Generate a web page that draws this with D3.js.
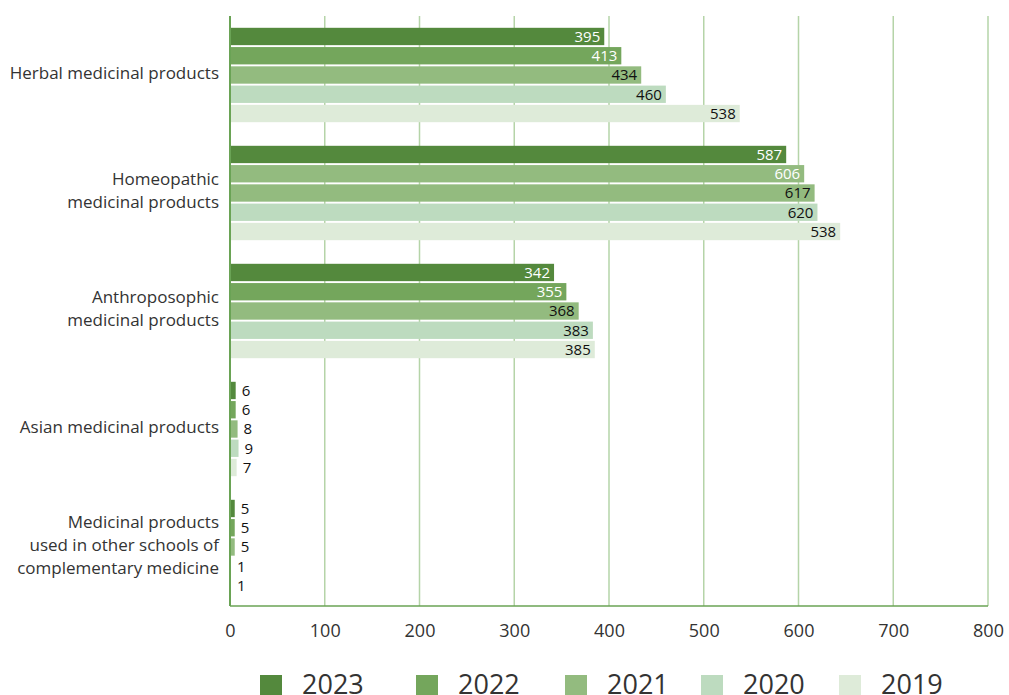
<!DOCTYPE html>
<html>
<head>
<meta charset="utf-8">
<script src="https://cdn.jsdelivr.net/npm/d3@7"></script>
<style>
  body { margin: 0; background: #fff; }
  text { font-family: "Open Sans", "Noto Sans", sans-serif; }
</style>
</head>
<body>
<div id="chart"></div>
<script>
// categories (multi-line labels split by "|")
const categories = [
  "Herbal medicinal products",
  "Homeopathic|medicinal products",
  "Anthroposophic|medicinal products",
  "Asian medicinal products",
  "Medicinal products|used in other schools of|complementary medicine"
];
const years = ["2023", "2022", "2021", "2020", "2019"];

// bar lengths as drawn, per year (order follows categories)
const values2023 = [395, 587, 342, 6, 5];
const values2022 = [413, 606, 355, 6, 5];
const values2021 = [434, 617, 368, 8, 5];
const values2020 = [460, 620, 383, 9, 1];
const values2019 = [538, 644, 385, 7, 1];

// printed labels (homeopathic 2019 bar is labelled 538 in the source)
const labels2019 = ["538", "538", "385", "7", "1"];

const xTicks = [0, 100, 200, 300, 400, 500, 600, 700, 800];
const colors = ["#54893d", "#74a65c", "#93bb7f", "#bddbbf", "#deebd9"];

const seriesValues = [values2023, values2022, values2021, values2020, values2019];

const width = 1009, height = 695;
const margin = { top: 16, right: 21, bottom: 89, left: 230 };

const svg = d3.select("#chart")
  .append("svg")
  .attr("width", width)
  .attr("height", height);

const x = d3.scaleLinear()
  .domain([0, 800])
  .range([margin.left, width - margin.right]);

const y0 = d3.scaleBand()
  .domain(categories)
  .range([margin.top, height - margin.bottom])
  .paddingInner(0.2)
  .paddingOuter(0.1);

const y1 = d3.scaleBand()
  .domain(years)
  .range([0, y0.bandwidth()])
  .paddingInner(0.1);

const plotBottom = height - margin.bottom;

// grid lines
svg.append("g")
  .selectAll("line")
  .data(xTicks.slice(1))
  .enter()
  .append("line")
  .attr("x1", d => x(d))
  .attr("x2", d => x(d))
  .attr("y1", margin.top)
  .attr("y2", plotBottom)
  .attr("stroke", "#b5d4a8")
  .attr("stroke-width", 1.5);

// bars
const rows = [];
categories.forEach((c, i) => {
  years.forEach((yr, j) => {
    let label = String(seriesValues[j][i]);
    if (yr === "2019") label = labels2019[i];
    // homeopathic 2022 bar is drawn in the 2021 colour in the source
    let fill = colors[j];
    if (i === 1 && yr === "2022") fill = colors[2];
    rows.push({ cat: c, year: yr, value: seriesValues[j][i], label: label, fill: fill, white: j < 2 });
  });
});

const g = svg.append("g");

g.selectAll("rect")
  .data(rows)
  .enter()
  .append("rect")
  .attr("x", x(0))
  .attr("y", d => y0(d.cat) + y1(d.year))
  .attr("width", d => x(d.value) - x(0))
  .attr("height", y1.bandwidth())
  .attr("fill", d => d.fill);

g.selectAll("text.val")
  .data(rows)
  .enter()
  .append("text")
  .attr("class", "val")
  .attr("x", d => d.value > 50 ? x(d.value) - 4 : x(d.value) + 6)
  .attr("y", d => y0(d.cat) + y1(d.year) + y1.bandwidth() / 2)
  .attr("dy", "0.36em")
  .attr("text-anchor", d => d.value > 50 ? "end" : "start")
  .attr("font-size", "15px")
  .attr("fill", d => (d.value > 50 && d.white) ? "#ffffff" : "#111111")
  .text(d => d.label);

// axis lines
svg.append("line")
  .attr("x1", x(0)).attr("x2", x(0))
  .attr("y1", margin.top).attr("y2", plotBottom)
  .attr("stroke", "#6aa355").attr("stroke-width", 2);
svg.append("line")
  .attr("x1", x(0)).attr("x2", x(800))
  .attr("y1", plotBottom).attr("y2", plotBottom)
  .attr("stroke", "#6aa355").attr("stroke-width", 1.5);

// x axis labels
const xAxis = svg.append("g")
  .attr("transform", "translate(0," + plotBottom + ")")
  .call(d3.axisBottom(x).tickValues(xTicks).tickSize(0).tickPadding(18));
xAxis.select(".domain").remove();
xAxis.selectAll("text")
  .attr("font-size", "18px")
  .attr("fill", "#333")
  .style("font-family", "'Liberation Sans Narrow', 'Open Sans', sans-serif");

// category labels
categories.forEach(c => {
  const lines = c.split("|");
  const cy = y0(c) + y0.bandwidth() / 2;
  const lh = 23;
  const t = svg.append("text")
    .attr("text-anchor", "end")
    .attr("font-size", "17px")
    .attr("fill", "#333");
  lines.forEach((ln, k) => {
    t.append("tspan")
      .attr("x", 219)
      .attr("y", cy - 2 + (k - (lines.length - 1) / 2) * lh)
      .attr("dy", "0.35em")
      .text(ln);
  });
});

// legend
const legendX = [260, 416, 565, 701, 839];
const legend = svg.append("g");
years.forEach((yr, j) => {
  legend.append("rect")
    .attr("x", legendX[j])
    .attr("y", 675)
    .attr("width", 22)
    .attr("height", 22)
    .attr("fill", colors[j]);
  legend.append("text")
    .attr("x", legendX[j] + 42)
    .attr("y", 694)
    .attr("font-size", "27px")
    .attr("fill", "#333")
    .style("font-family", "'Liberation Sans Narrow', 'Open Sans', sans-serif")
    .text(yr);
});
</script>
</body>
</html>
